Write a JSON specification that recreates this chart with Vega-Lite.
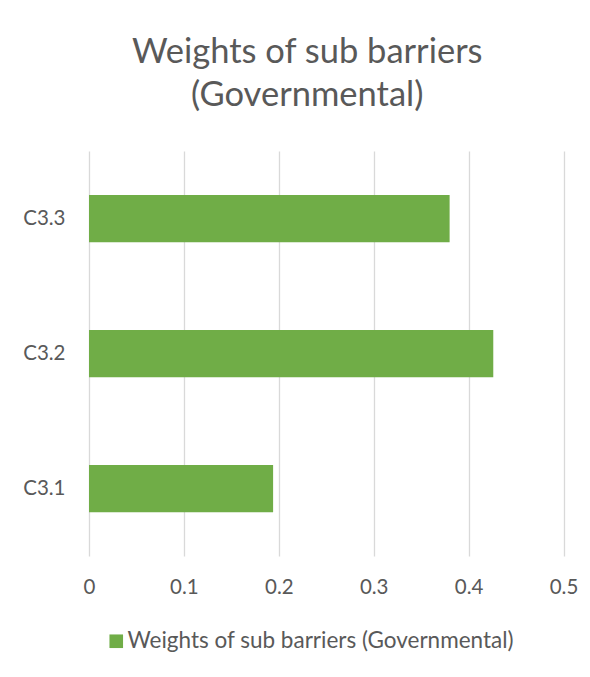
{
  "$schema": "https://vega.github.io/schema/vega-lite/v6.json",
  "autosize": {"type": "none"},
  "width": 474.5,
  "height": 405,
  "padding": {"left": 89, "top": 151, "right": 26.5, "bottom": 121},
  "background": "white",
  "title": {
    "text": ["Weights of sub barriers", "(Governmental)"],
    "font": "Lato",
    "fontSize": 34.5,
    "fontWeight": "normal",
    "color": "#595959",
    "lineHeight": 43,
    "anchor": "middle",
    "dx": -19,
    "offset": 38
  },
  "data": {
    "values": [
      {"barrier": "C3.1", "weight": 0.194, "series": "Weights of sub barriers (Governmental)"},
      {"barrier": "C3.2", "weight": 0.426, "series": "Weights of sub barriers (Governmental)"},
      {"barrier": "C3.3", "weight": 0.380, "series": "Weights of sub barriers (Governmental)"}
    ]
  },
  "mark": {"type": "bar"},
  "encoding": {
    "y": {
      "field": "barrier",
      "type": "nominal",
      "sort": ["C3.3", "C3.2", "C3.1"],
      "scale": {"paddingInner": 0.65, "paddingOuter": 0.325},
      "axis": {
        "title": null,
        "domain": false,
        "ticks": false,
        "grid": false,
        "labelFont": "Lato",
        "labelFontSize": 20.5,
        "labelColor": "#595959",
        "labelPadding": 24
      }
    },
    "x": {
      "field": "weight",
      "type": "quantitative",
      "scale": {"domain": [0, 0.5], "nice": false},
      "axis": {
        "title": null,
        "values": [0, 0.1, 0.2, 0.3, 0.4, 0.5],
        "format": "~g",
        "domain": false,
        "ticks": false,
        "grid": true,
        "gridColor": "#D9D9D9",
        "gridWidth": 1.3,
        "labelFont": "Lato",
        "labelFontSize": 20.5,
        "labelColor": "#595959",
        "labelPadding": 21,
        "labelFlush": false
      }
    },
    "color": {
      "field": "series",
      "type": "nominal",
      "scale": {"range": ["#70AD47"]},
      "legend": {
        "title": null,
        "orient": "none",
        "legendX": 16,
        "legendY": 479,
        "symbolType": "square",
        "symbolSize": 185,
        "symbolStrokeWidth": 0,
        "labelFont": "Lato",
        "labelFontSize": 22.5,
        "labelColor": "#595959",
        "labelOffset": 0,
        "labelLimit": 600
      }
    }
  },
  "config": {
    "view": {"stroke": null}
  }
}
